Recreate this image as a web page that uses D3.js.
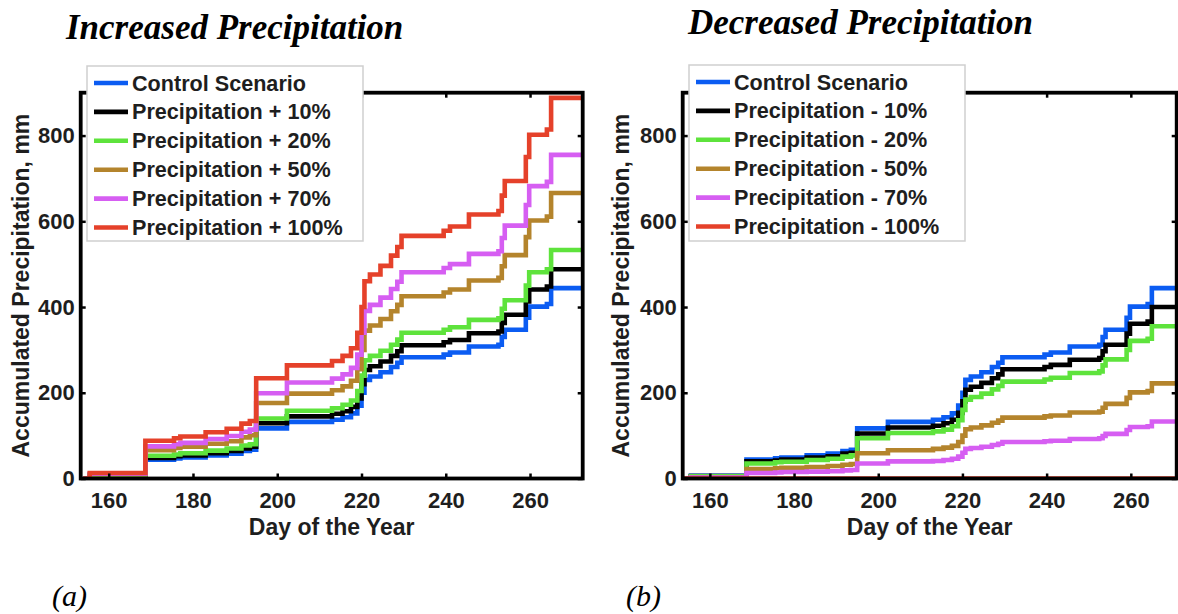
<!DOCTYPE html>
<html><head><meta charset="utf-8">
<script src="https://cdn.jsdelivr.net/npm/d3@7"></script>
<style>
body{margin:0;background:#fff}
svg text{font-family:"Liberation Sans",Arial,sans-serif}
</style>
</head><body>
<svg id="chart" width="1178" height="614"></svg>
<script>
// Step-change days (day of the year)
const days = [154.0,155.5,168.7,175.5,177,183,188,191.5,193.5,195,202.3,213,215.5,217.5,219,220,220.7,222,224.5,227,228.5,229.5,239.5,241,245.5,252.5,253.3,254,259,259.8,264,265,272.5];

// Accumulated precipitation (mm)
const control = [0,6.5,44,47,49,54,58,64,67,117,132,137,143,152,170,200,230,238,248,260,270,283,289,294,308,312,330,347,375,401,407,444,445];
const plus10  = [0,7,48,52,54,59,64,70,74,129,145,151,157,167,187,220,253,262,273,286,297,311,318,323,339,343,363,382,413,441,448,488,490];
const plus20  = [0,8,53,56,59,65,70,77,80,140,158,164,172,182,204,240,276,286,298,312,324,340,347,353,370,374,396,416,450,481,488,533,534];
const plus50  = [0,10,66,71,74,81,87,96,101,176,198,206,215,228,255,300,345,357,372,390,405,425,434,441,462,468,495,521,563,602,611,666,668];
const plus70  = [0,11,75,80,83,92,99,109,114,199,224,233,243,258,289,340,391,405,422,442,459,481,491,500,524,530,561,590,638,682,692,755,757];
const plus100 = [0,13,88,94,98,108,116,128,134,234,264,274,286,304,340,400,460,476,496,520,540,566,578,588,616,624,660,694,750,802,814,888,890];

const minus10  = [0,6,40,42,44,49,52,58,60,105,119,123,129,137,153,180,207,214,223,234,243,255,260,265,277,281,297,312,338,361,366,400,401];
const minus20  = [0,5,35,38,39,43,46,51,54,94,106,110,114,122,136,160,184,190,198,208,216,226,231,235,246,250,264,278,300,321,326,355,356];
const minus50  = [0,3,22,24,25,27,29,32,34,59,66,69,72,76,85,100,115,119,124,130,135,142,145,147,154,156,165,174,188,201,204,222,223];
const minus70  = [0,2,13,14,15,16,17,19,20,35,40,41,43,46,51,60,69,71,74,78,81,85,87,88,92,94,99,104,113,120,122,133,134];
const minus100 = [0,0,0,0,0,0,0,0,0,0,0,0,0,0,0,0,0,0,0,0,0,0,0,0,0,0,0,0,0,0,0,0,0];

const xTicks = [160,180,200,220,240,260];
const yTicks = [0,200,400,600,800];

const incLabels = ["Control Scenario","Precipitation + 10%","Precipitation + 20%","Precipitation + 50%","Precipitation + 70%","Precipitation + 100%"];
const decLabels = ["Control Scenario","Precipitation - 10%","Precipitation - 20%","Precipitation - 50%","Precipitation - 70%","Precipitation - 100%"];
const colors = ["#0b5cf2","#000000","#5ee33c","#b4842c","#d65ef2","#e5412a"];

const svg = d3.select("#chart");

function drawPanel(cfg){
  const g = svg.append("g");
  const x = d3.scaleLinear().domain(cfg.domain).range([cfg.x0, cfg.x1]);
  const y = d3.scaleLinear().domain([0,900]).range([cfg.y1, cfg.y0]);

  const clipId = "clip"+cfg.id;
  g.append("clipPath").attr("id",clipId).append("rect")
    .attr("x",cfg.x0).attr("y",cfg.y0-4).attr("width",cfg.x1-cfg.x0).attr("height",cfg.y1-cfg.y0+2.5);

  const line = d3.line().x(d=>x(d[0])).y(d=>y(d[1])).curve(d3.curveStepAfter);
  const lg = g.append("g").attr("clip-path",`url(#${clipId})`);
  cfg.series.forEach((s,i)=>{
    lg.append("path").datum(days.map((d,j)=>[d,s[j]]))
      .attr("d",line).attr("fill","none").attr("stroke",colors[i])
      .attr("stroke-width",4.6).attr("stroke-linejoin","miter");
  });

  // axes
  const bottom = g.append("g").attr("transform",`translate(0,${cfg.y1})`)
    .call(d3.axisBottom(x).tickValues(xTicks).tickSizeInner(-5).tickSizeOuter(0).tickPadding(14));
  const left = g.append("g").attr("transform",`translate(${cfg.x0},0)`)
    .call(d3.axisLeft(y).tickValues(yTicks).tickSizeInner(-5).tickSizeOuter(0).tickPadding(6));
  const top = g.append("g").attr("transform",`translate(0,${cfg.y0})`)
    .call(d3.axisTop(x).tickValues(xTicks).tickSizeInner(-5).tickSizeOuter(0).tickFormat(""));
  const right = g.append("g").attr("transform",`translate(${cfg.x1},0)`)
    .call(d3.axisRight(y).tickValues(yTicks).tickSizeInner(-5).tickSizeOuter(0).tickFormat(""));
  [bottom,left,top,right].forEach(a=>{
    a.select(".domain").remove();
    a.selectAll(".tick line").attr("stroke","#000").attr("stroke-width",2.5);
    a.selectAll("text").attr("font-size",22).attr("font-weight","bold").attr("fill","#1e1e1e")
      .style("font-family",'"Liberation Sans",Arial,sans-serif');
  });

  g.append("rect").attr("x",cfg.x0).attr("y",cfg.y0).attr("width",cfg.x1-cfg.x0).attr("height",cfg.y1-cfg.y0)
    .attr("fill","none").attr("stroke","#000").attr("stroke-width",3.8);

  // axis titles
  g.append("text").attr("x",(cfg.x0+cfg.x1)/2).attr("y",535).attr("text-anchor","middle")
    .attr("font-size",23).attr("font-weight","bold").attr("fill","#1e1e1e").text("Day of the Year");
  g.append("text").attr("transform",`translate(${cfg.ylabX},${(cfg.y0+cfg.y1)/2}) rotate(-90)`)
    .attr("text-anchor","middle").attr("dominant-baseline","central")
    .attr("font-size",23).attr("font-weight","bold").attr("fill","#1e1e1e").text("Accumulated Precipitation, mm");

  // legend
  const L = cfg.legend;
  g.append("rect").attr("x",L.x).attr("y",L.y).attr("width",L.w).attr("height",L.h)
    .attr("fill","#fff").attr("stroke","#cfcfcf").attr("stroke-width",1.5);
  cfg.labels.forEach((lab,i)=>{
    const ry = L.y + 17 + i*28.9;
    g.append("line").attr("x1",L.x+7).attr("x2",L.x+41).attr("y1",ry).attr("y2",ry)
      .attr("stroke",colors[i]).attr("stroke-width",4.6);
    g.append("text").attr("x",L.x+45).attr("y",ry).attr("dominant-baseline","central")
      .attr("font-size",21.6).attr("font-weight","bold").attr("fill","#1e1e1e").text(lab);
  });

  // title
  g.append("text").attr("x",cfg.titleX).attr("y",cfg.titleY)
    .style("font-family",'"Liberation Serif","Times New Roman",serif')
    .attr("font-size",35).attr("font-weight","bold").attr("font-style","italic").attr("fill","#000").text(cfg.title);
  g.append("text").attr("x",cfg.tagX).attr("y",606)
    .style("font-family",'"Liberation Serif","Times New Roman",serif')
    .attr("font-size",30).attr("font-style","italic").attr("fill","#000").text(cfg.tag);
}

drawPanel({id:"a",x0:80.7,x1:582.7,y0:92.7,y1:478.5,domain:[153.35,272.5],
  series:[control,plus10,plus20,plus50,plus70,plus100],labels:incLabels,
  legend:{x:87,y:66,w:276,h:175},ylabX:21,title:"Increased Precipitation",titleX:66,titleY:39,tag:"(a)",tagX:52});
drawPanel({id:"b",x0:682.7,x1:1176.7,y0:92.7,y1:478.5,domain:[153.55,270.9],
  series:[control,minus10,minus20,minus50,minus70,minus100],labels:decLabels,
  legend:{x:689,y:65,w:276,h:176},ylabX:621,title:"Decreased Precipitation",titleX:688,titleY:34,tag:"(b)",tagX:626});
</script>
</body></html>
